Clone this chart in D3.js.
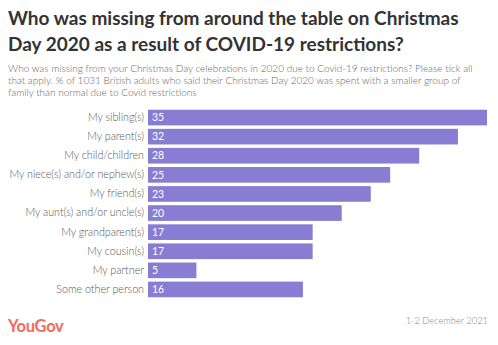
<!DOCTYPE html>
<html><head><meta charset="utf-8">
<script src="https://cdn.jsdelivr.net/npm/d3@7"></script>
<style>body{margin:0;background:#fff;}svg{display:block;}</style>
</head><body><div id="chart"></div>
<script>
const categories = ["My sibling(s)","My parent(s)","My child/children","My niece(s) and/or nephew(s)","My friend(s)","My aunt(s) and/or uncle(s)","My grandparent(s)","My cousin(s)","My partner","Some other person"];
const values = [35,32,28,25,23,20,17,17,5,16];
const titleLines = ["Who was missing from around the table on Christmas","Day 2020 as a result of COVID-19 restrictions?"];
const subtitleLines = ["Who was missing from your Christmas Day celebrations in 2020 due to Covid-19 restrictions? Please tick all","that apply. % of 1031 British adults who said their Christmas Day 2020 was spent with a smaller group of","family than normal due to Covid restrictions"];
const sourceText = "1-2 December 2021";
const brand = "YouGov";

const W=498,H=345;
const svg=d3.select("#chart").append("svg").attr("width",W).attr("height",H);

svg.append("g").selectAll("text").data(titleLines).join("text")
 .attr("x",8).attr("y",(d,i)=>25+i*25.5)
 .attr("font-family","Lato").attr("font-weight","bold").attr("font-size",19)
 .attr("fill","#333").text(d=>d);

svg.append("g").selectAll("text").data(subtitleLines).join("text")
 .attr("x",8).attr("y",(d,i)=>71.5+i*12.2)
 .attr("font-family","Lato").attr("font-weight",300).attr("font-size",10)
 .attr("fill","#666").text(d=>d);

const x=d3.scaleLinear().domain([0,35]).range([148,487]);
const y=d3.scaleBand().domain(categories).range([108,299]).paddingInner(0.18).paddingOuter(0.09);

const g=svg.append("g");
g.selectAll("rect").data(values).join("rect")
 .attr("x",x(0)).attr("y",(d,i)=>y(categories[i]))
 .attr("width",d=>x(d)-x(0)).attr("height",y.bandwidth())
 .attr("fill","#897dd3");

g.selectAll("text.v").data(values).join("text").attr("class","v")
 .attr("x",x(0)+4).attr("y",(d,i)=>y(categories[i])+y.bandwidth()/2)
 .attr("dy","0.35em").attr("font-family","Lato").attr("font-size",10.5)
 .attr("fill","#fff").text(d=>d);

const yAxis=d3.axisLeft(y).tickSize(0).tickPadding(4);
const ag=svg.append("g").attr("transform",`translate(${x(0)},0)`).call(yAxis);
ag.select(".domain").remove();
ag.selectAll("text").attr("font-family","Lato").attr("font-weight",300).attr("font-size",10.7).attr("fill","#555");

svg.append("text").attr("x",8).attr("y",331.5).attr("font-family","Lato").attr("font-weight","bold")
 .attr("font-size",16.5).attr("fill","#f46a5a").attr("letter-spacing","-0.3").text(brand);
svg.append("text").attr("x",488).attr("y",324).attr("text-anchor","end").attr("font-family","Lato").attr("font-weight",300)
 .attr("font-size",9.3).attr("fill","#888").text(sourceText);
</script></body></html>
